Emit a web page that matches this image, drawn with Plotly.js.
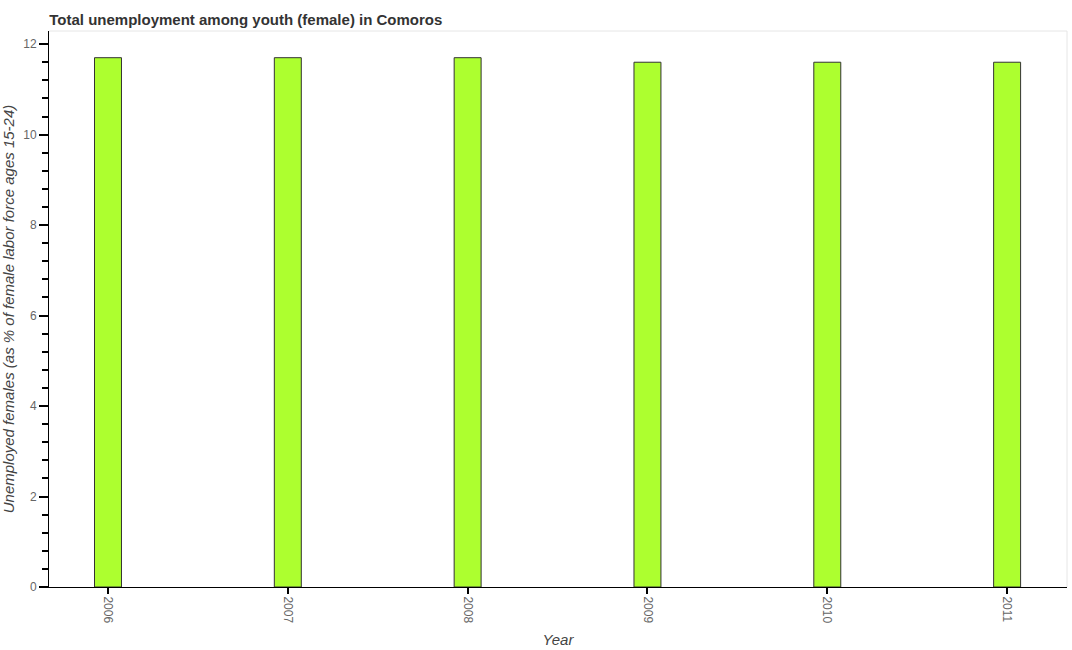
<!DOCTYPE html>
<html>
<head>
<meta charset="utf-8">
<script src="https://cdn.plot.ly/plotly-3.0.1.min.js"></script>
<style>
  body { margin: 0; background: #fff; }
  #chart { width: 1072px; height: 650px; }
</style>
</head>
<body>
<div id="chart"></div>
<script>
  var years = [2006, 2007, 2008, 2009, 2010, 2011]
  var unemployed = [11.7, 11.7, 11.7, 11.6, 11.6, 11.6]

  var trace = {
    x: years,
    y: unemployed,
    type: 'bar',
    width: 0.15,
    marker: {
      color: '#adff2f',
      line: { color: '#333333', width: 1 }
    },
    hoverinfo: 'x+y'
  }

  var layout = {
    width: 1072,
    height: 650,
    margin: { t: 31, b: 63, l: 49, r: 5 },
    paper_bgcolor: '#ffffff',
    plot_bgcolor: '#ffffff',
    showlegend: false,
    font: { family: 'Liberation Sans, Arial, sans-serif', color: '#666666' },
    title: {
      text: 'Total unemployment among youth (female) in Comoros',
      font: { size: 15, color: '#333333', weight: 'bold' },
      x: 0.046, xanchor: 'left',
      y: 0.978, yanchor: 'top'
    },
    xaxis: {
      range: [2005.672, 2011.333],
      tickmode: 'array',
      tickvals: years,
      ticktext: years.map(String),
      tickangle: 90,
      ticks: 'outside',
      ticklen: 6,
      tickwidth: 1.5,
      tickcolor: '#000000',
      tickfont: { size: 12, color: '#666666' },
      showgrid: false,
      zeroline: false,
      showline: true,
      linecolor: '#000000',
      linewidth: 1,
      title: {
        text: 'Year',
        font: { size: 15, color: '#444444', style: 'italic' },
        standoff: 12
      }
    },
    yaxis: {
      range: [0, 12.29],
      tickmode: 'linear',
      tick0: 0,
      dtick: 2,
      ticks: 'outside',
      ticklen: 9,
      tickwidth: 1.5,
      tickcolor: '#000000',
      tickfont: { size: 12, color: '#666666' },
      minor: { dtick: 0.4, ticks: 'outside', ticklen: 6, tickwidth: 1.5, tickcolor: '#000000', showgrid: false },
      showgrid: false,
      zeroline: false,
      showline: true,
      linecolor: '#000000',
      linewidth: 1,
      title: {
        text: 'Unemployed females (as % of female labor force ages 15-24)',
        font: { size: 15, color: '#444444', style: 'italic' },
        standoff: 12
      }
    },
    shapes: [
      { type: 'line', xref: 'paper', yref: 'paper', x0: 0, x1: 1, y0: 1, y1: 1,
        line: { color: '#e6e6e6', width: 1 } },
      { type: 'line', xref: 'paper', yref: 'paper', x0: 1, x1: 1, y0: 0, y1: 1,
        line: { color: '#e6e6e6', width: 1 } }
    ]
  }

  var config = { displayModeBar: false }

  Plotly.newPlot('chart', [trace], layout, config)
</script>
</body>
</html>
